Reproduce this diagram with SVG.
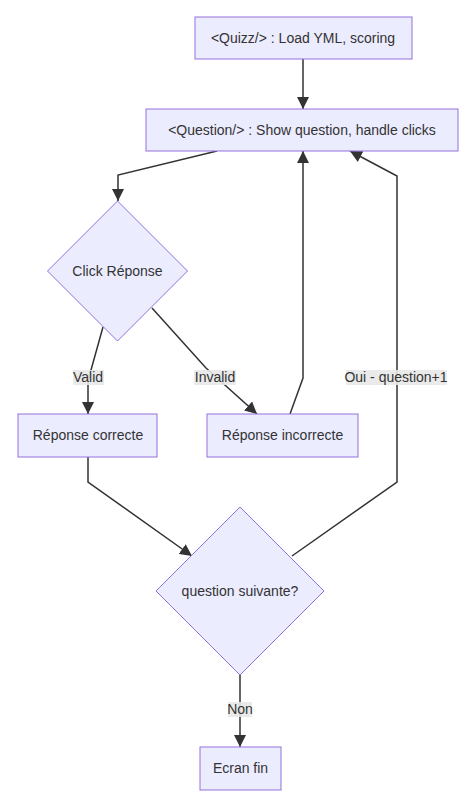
<svg xmlns="http://www.w3.org/2000/svg" width="468" height="800" viewBox="0 0 468 800">
<style>
.node{fill:#ECECFF;stroke:#9370DB;stroke-width:1}
.t{font-family:"Liberation Sans",Arial,sans-serif;font-size:14px;fill:#333;text-anchor:middle}
.e{fill:none;stroke:#333;stroke-width:1.5}
.lb{fill:#e8e8e8;opacity:0.9}
</style>
<defs>
<marker id="ah" markerUnits="userSpaceOnUse" markerWidth="12" markerHeight="12" refX="10" refY="5" viewBox="0 0 10 10" orient="auto">
<path d="M0,0 L10,5 L0,10 z" fill="#333"/>
</marker>
</defs>
<rect width="468" height="800" fill="#fff"/>
<g id="edges">
<polyline class="e" points="303,59 303,109" marker-end="url(#ah)"/>
<polyline class="e" points="217,151 118,175 118,201" marker-end="url(#ah)"/>
<polyline class="e" points="103,327 91,370 88,380 88,414" marker-end="url(#ah)"/>
<polyline class="e" points="152,308 206,368 257,414" marker-end="url(#ah)"/>
<polyline class="e" points="290,414 303,378 303,151" marker-end="url(#ah)"/>
<polyline class="e" points="88,457 88,482 192,556" marker-end="url(#ah)"/>
<polyline class="e" points="292,556 397,482 397,176 350,151" marker-end="url(#ah)"/>
<polyline class="e" points="240,675 240,747" marker-end="url(#ah)"/>
</g>
<g id="edge-labels">
<rect class="lb" x="73" y="370" width="31" height="15"/>
<text class="t" x="88" y="382">Valid</text>
<rect class="lb" x="194" y="370" width="42" height="15"/>
<text class="t" x="215" y="382">Invalid</text>
<rect class="lb" x="346" y="370" width="101" height="15"/>
<text class="t" x="396" y="382">Oui - question+1</text>
<rect class="lb" x="228" y="702" width="24" height="15"/>
<text class="t" x="240" y="714">Non</text>
</g>
<g id="quizz">
<rect class="node" x="195" y="17" width="217" height="42"/>
<text class="t" x="303" y="43">&lt;Quizz/&gt; : Load YML, scoring</text>
</g>
<g id="question">
<rect class="node" x="146" y="109" width="312" height="42"/>
<text class="t" x="302" y="135">&lt;Question/&gt; : Show question, handle clicks</text>
</g>
<g id="click">
<polygon class="node" points="117.5,201 187.5,271 117.5,341 47.5,271"/>
<text class="t" x="117.5" y="276">Click Réponse</text>
</g>
<g id="correcte">
<rect class="node" x="18" y="414" width="139" height="43"/>
<text class="t" x="88" y="440">Réponse correcte</text>
</g>
<g id="incorrecte">
<rect class="node" x="207" y="414" width="151" height="43"/>
<text class="t" x="282.5" y="440">Réponse incorrecte</text>
</g>
<g id="suivante">
<polygon class="node" points="240,507 324,591 240,675 156,591"/>
<text class="t" x="240" y="596">question suivante?</text>
</g>
<g id="fin">
<rect class="node" x="200" y="747" width="81" height="43"/>
<text class="t" x="240.5" y="773">Ecran fin</text>
</g>
</svg>
